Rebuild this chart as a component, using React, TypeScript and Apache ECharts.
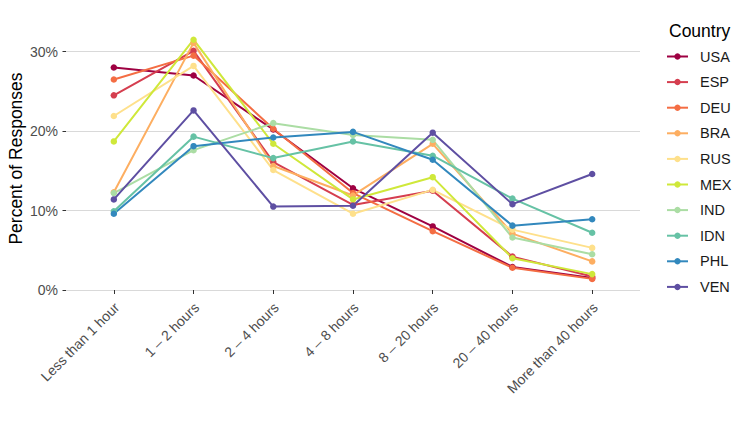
import React, { useEffect, useRef } from "react";
import * as echarts from "echarts";

const categories = [
  "Less than 1 hour",
  "1 – 2 hours",
  "2 – 4 hours",
  "4 – 8 hours",
  "8 – 20 hours",
  "20 – 40 hours",
  "More than 40 hours",
];

const countries = ["USA", "ESP", "DEU", "BRA", "RUS", "MEX", "IND", "IDN", "PHL", "VEN"];

const colors = [
  "#9E0142", "#D53E4F", "#F46D43", "#FDAE61", "#FEE08B",
  "#CFE83A", "#ABDDA4", "#66C2A5", "#3288BD", "#5E4FA2",
];

const USA = [28.0, 27.0, 20.2, 12.8, 8.0, 2.9, 1.5];
const ESP = [24.5, 30.1, 16.1, 10.7, 12.5, 4.2, 1.7];
const DEU = [26.5, 29.5, 20.3, 12.2, 7.4, 2.8, 1.4];
const BRA = [12.3, 31.1, 15.6, 11.9, 18.4, 7.1, 3.6];
const RUS = [21.9, 28.2, 15.1, 9.6, 12.6, 7.6, 5.3];
const MEX = [18.7, 31.5, 18.4, 11.4, 14.2, 4.0, 2.0];
const IND = [12.2, 17.6, 21.0, 19.5, 18.9, 6.6, 4.5];
const IDN = [9.9, 19.3, 16.6, 18.7, 16.9, 11.5, 7.2];
const PHL = [9.6, 18.1, 19.2, 19.9, 16.4, 8.1, 8.9];
const VEN = [11.4, 22.6, 10.5, 10.6, 19.8, 10.8, 14.6];

const seriesValues = [USA, ESP, DEU, BRA, RUS, MEX, IND, IDN, PHL, VEN];

const yTicks = [0, 10, 20, 30];
const xTicks = [0, 1, 2, 3, 4, 5, 6];

const FONT = "'Liberation Sans', Arial, Helvetica, sans-serif";

export default function App() {
  const ref = useRef<HTMLDivElement>(null);

  useEffect(() => {
    if (!ref.current) return;
    const chart = echarts.init(ref.current, null, { renderer: "svg" });

    const lineSeries = countries.map((name, i) => ({
      name,
      type: "line",
      data: seriesValues[i].map((v, j) => [j, v]),
      symbol: "circle",
      symbolSize: 6,
      showSymbol: false,
      lineStyle: { color: colors[i], width: 2 },
      itemStyle: { color: colors[i] },
      z: 2,
    }));
    const pointSeries = countries.map((name, i) => ({
      name,
      type: "scatter",
      data: seriesValues[i].map((v, j) => [j, v]),
      symbol: "circle",
      symbolSize: 6.5,
      itemStyle: { color: colors[i], opacity: 1 },
      z: 3,
    }));

    chart.setOption({
      animation: false,
      textStyle: { fontFamily: FONT },
      title: {
        text: "Country",
        left: 664,
        top: 17,
        textStyle: { fontSize: 17.5, fontWeight: "normal", color: "#000", fontFamily: FONT },
      },
      legend: {
        data: countries,
        orient: "vertical",
        left: 666,
        top: 48.5,
        itemWidth: 21,
        itemHeight: 8,
        itemGap: 9.6,
        padding: 0,
        textStyle: {
          fontSize: 14.5,
          color: "#1a1a1a",
          fontFamily: FONT,
          lineHeight: 16,
          padding: [0, 0, 0, 7],
        },
      },
      grid: {
        left: 66,
        right: 107,
        top: 27,
        bottom: 137,
        outerBoundsMode: "none",
        containLabel: false,
      },
      xAxis: {
        type: "value",
        min: -0.6,
        max: 6.6,
        axisLine: { show: true, onZero: false, lineStyle: { color: "rgba(0,0,0,0)", width: 0 } },
        splitLine: { show: false },
        axisTick: {
          show: true,
          length: 4,
          customValues: xTicks,
          lineStyle: { color: "#333333", width: 1 },
        },
        axisLabel: {
          customValues: xTicks,
          rotate: 45,
          margin: 12,
          verticalAlign: "top",
          lineHeight: 8.5,
          fontSize: 14,
          color: "#4D4D4D",
          fontFamily: FONT,
          formatter: (v: number) => categories[Math.round(v)] ?? "",
        },
      },
      yAxis: {
        type: "value",
        min: 0,
        max: 33.1,
        interval: 10,
        name: "Percent of Responses",
        nameLocation: "middle",
        nameRotate: 90,
        nameGap: 41,
        nameMoveOverlap: false,
        nameTextStyle: { fontSize: 17.5, color: "#000", fontFamily: FONT },
        axisLine: { show: true, onZero: false, lineStyle: { color: "rgba(0,0,0,0)", width: 0 } },
        axisTick: {
          show: true,
          length: 3.5,
          customValues: yTicks,
          lineStyle: { color: "#333333", width: 1 },
        },
        splitLine: { show: true, lineStyle: { color: "#D9D9D9", width: 1.2 } },
        axisLabel: {
          customValues: yTicks,
          margin: 8,
          fontSize: 14,
          color: "#4D4D4D",
          fontFamily: FONT,
          formatter: (v: number) => `${Math.round(v)}%`,
        },
      },
      series: [...lineSeries, ...pointSeries],
    });

    return () => chart.dispose();
  }, []);

  return (
    <div
      ref={ref}
      style={{ position: "fixed", left: 0, top: 0, width: 747, height: 427, background: "#fff" }}
    />
  );
}
